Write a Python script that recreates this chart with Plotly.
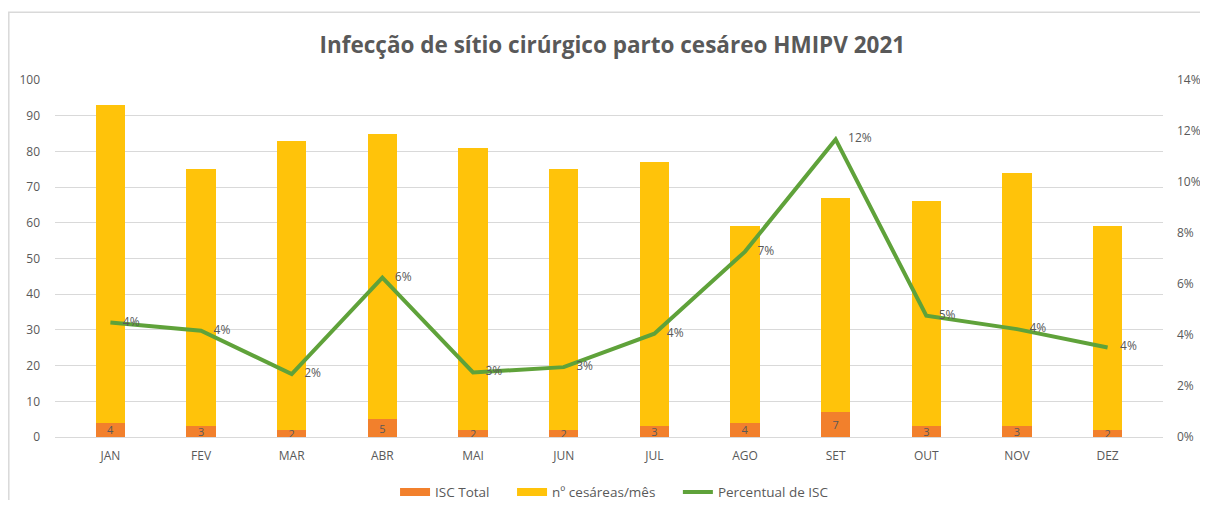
import plotly.graph_objects as go

months = ["JAN", "FEV", "MAR", "ABR", "MAI", "JUN", "JUL", "AGO", "SET", "OUT", "NOV", "DEZ"]
isc_total = [4, 3, 2, 5, 2, 2, 3, 4, 7, 3, 3, 2]
cesareas = [89, 72, 81, 80, 79, 73, 74, 55, 60, 63, 71, 57]
percentual = [0.0449, 0.0417, 0.0247, 0.0625, 0.0253, 0.0274, 0.0405, 0.0727, 0.1167, 0.0476, 0.0423, 0.0351]
left_ticks = [0, 10, 20, 30, 40, 50, 60, 70, 80, 90, 100]
right_ticks = [0, 0.02, 0.04, 0.06, 0.08, 0.10, 0.12, 0.14]

GRAY = "#595959"
FONT = "Open Sans"
NB = "\u00a0"
ORANGE = "#F2802C"
YELLOW = "#FFC30A"
GREEN = "#5FA23A"

fig = go.Figure()
fig.add_trace(go.Bar(
    x=months, y=isc_total, name="ISC Total", showlegend=False,
    marker=dict(color=ORANGE, line=dict(width=0)),
    text=[str(v) for v in isc_total], textposition="inside", textangle=0,
    insidetextanchor="middle", constraintext="none",
    textfont=dict(color=GRAY, size=11, family=FONT),
))
fig.add_trace(go.Bar(
    x=months, y=cesareas, name="nº cesáreas/mês", showlegend=False,
    marker=dict(color=YELLOW, line=dict(width=0)),
    textposition="none",
))
fig.add_trace(go.Scatter(
    x=months, y=percentual, name="Percentual de ISC", yaxis="y2", showlegend=False,
    mode="lines+text", line=dict(color=GREEN, width=4),
    texttemplate=NB * 4 + "%{y:.0%}", textposition="middle right",
    textfont=dict(color=GRAY, size=12, family=FONT),
))
# legend entries (legend-only swatches)
for nm, col, w in [("ISC Total" + NB * 5, ORANGE, 8),
                   ("nº cesáreas/mês" + NB * 5, YELLOW, 8),
                   ("Percentual de ISC", GREEN, 4)]:
    fig.add_trace(go.Scatter(x=[None], y=[None], name=nm, mode="lines",
                             line=dict(color=col, width=w), hoverinfo="skip"))

fig.update_layout(
    width=1192, height=492,
    barmode="stack", bargap=0.675,
    paper_bgcolor="white", plot_bgcolor="white",
    margin=dict(l=47, r=37, t=72, b=63, autoexpand=False),
    font=dict(family=FONT, color=GRAY, size=12),
    title=dict(text="<b>Infecção de sítio cirúrgico parto cesáreo HMIPV 2021</b>",
               x=0.507, xanchor="center", y=0.925, yanchor="middle",
               font=dict(size=22.5, color=GRAY, family=FONT)),
    xaxis=dict(showgrid=False, showline=True, linecolor="#d9d9d9", linewidth=1,
               ticks="", ticklabelstandoff=8, automargin=False,
               tickfont=dict(size=12, color=GRAY)),
    yaxis=dict(range=[0, 100], tickvals=left_ticks, showgrid=True,
               gridcolor="#d9d9d9", gridwidth=1, zeroline=False, showline=False,
               ticks="", ticklabelstandoff=14, automargin=False,
               tickfont=dict(size=12, color=GRAY)),
    yaxis2=dict(range=[0, 0.14], tickvals=right_ticks, tickformat=".0%",
                overlaying="y", side="right", showgrid=False, zeroline=False,
                showline=False, ticks="", ticklabelstandoff=13, automargin=False,
                tickfont=dict(size=12, color=GRAY)),
    legend=dict(orientation="h", x=0.505, xanchor="center", y=-0.155, yanchor="middle",
                font=dict(size=13.5, color=GRAY), traceorder="normal",
                itemwidth=30, tracegroupgap=0),
    showlegend=True,
    shapes=[dict(type="path", xref="paper", yref="paper",
                 path="M -0.0417,-0.3 L -0.0417,1.19 L 1.1,1.19",
                 line=dict(color="#d9d9d9", width=1.5),
                 layer="below")],
)

fig.write_html("out.html")
